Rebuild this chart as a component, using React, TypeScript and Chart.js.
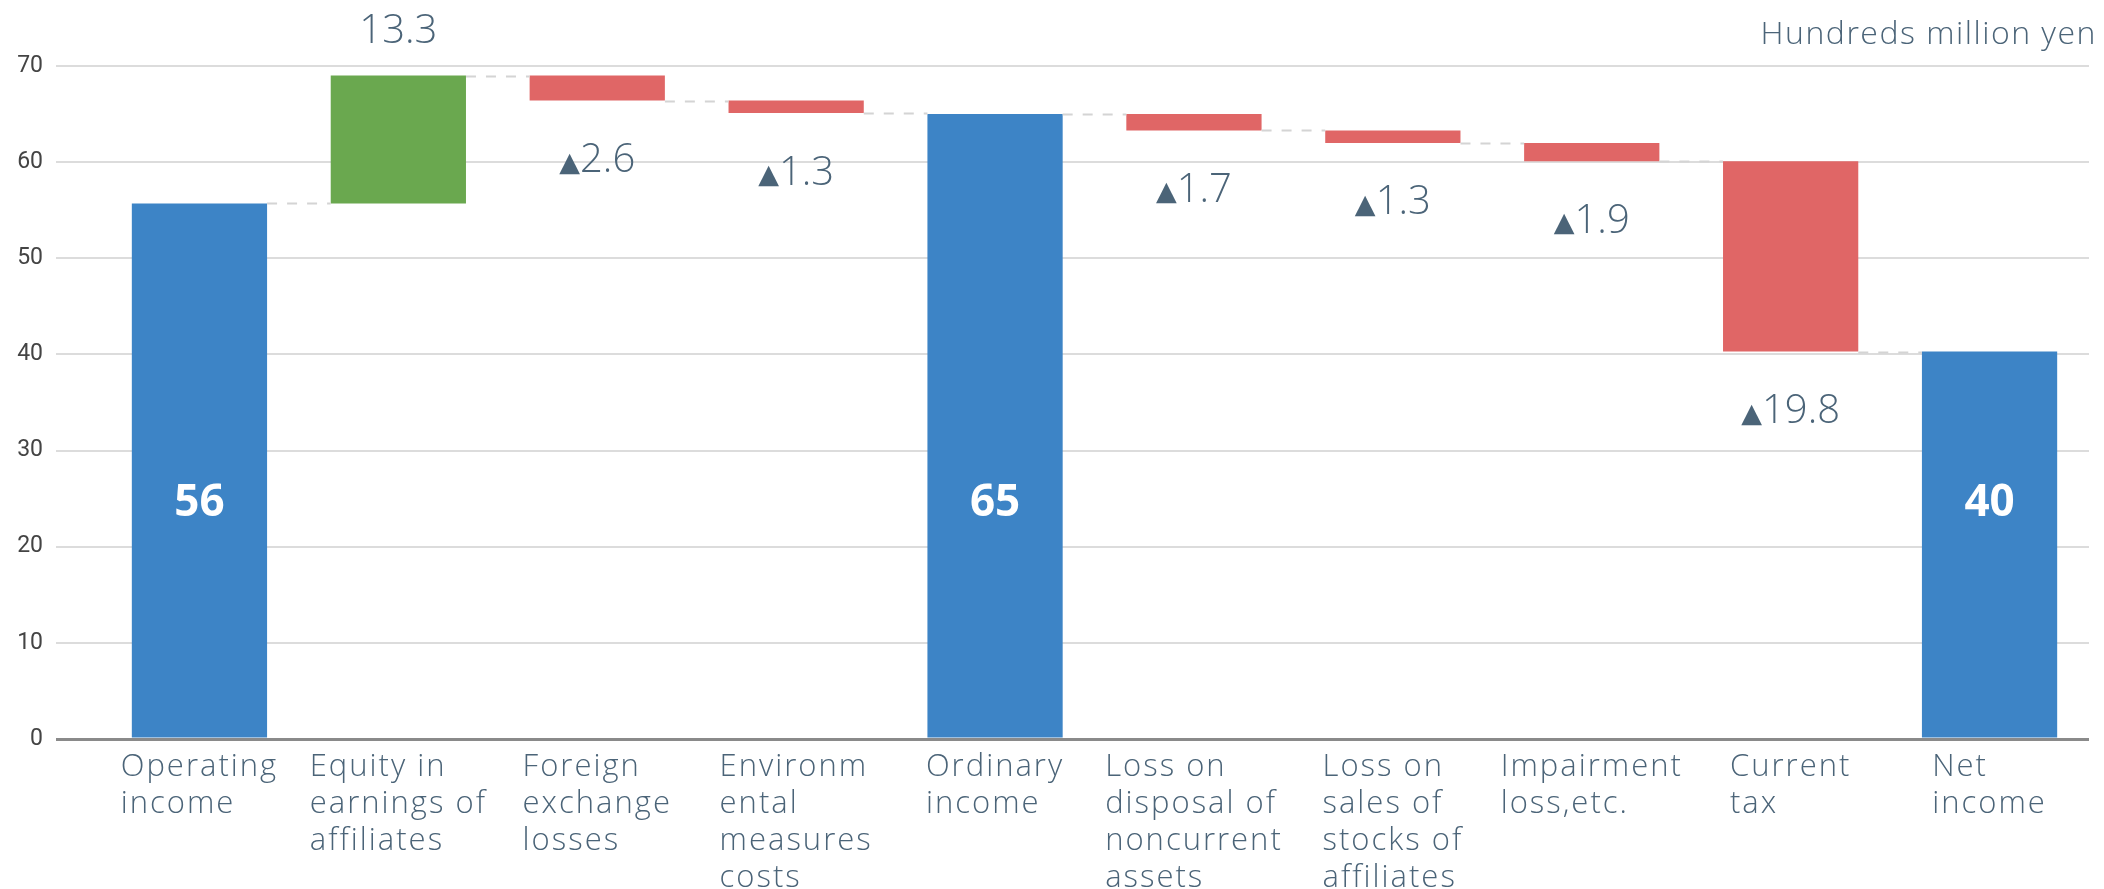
import { useEffect, useRef } from "react";
import { Chart, registerables } from "chart.js";

Chart.register(...registerables);

// ---- data ----
const categories: string[][] = [
  ["Operating", "income"],
  ["Equity in", "earnings of", "affiliates"],
  ["Foreign", "exchange", "losses"],
  ["Environm", "ental", "measures", "costs"],
  ["Ordinary", "income"],
  ["Loss on", "disposal of", "noncurrent", "assets"],
  ["Loss on", "sales of", "stocks of", "affiliates"],
  ["Impairment", "loss,etc."],
  ["Current", "tax"],
  ["Net", "income"],
];
const values: number[] = [55.7, 13.3, -2.6, -1.3, 65.0, -1.7, -1.3, -1.9, -19.8, 40.3];
const kinds: string[] = ["total", "delta", "delta", "delta", "total", "delta", "delta", "delta", "delta", "total"];
const yMin = 0;
const yMax = 70;
const yStep = 10;
const unitLabel = "Hundreds million yen";

// ---- style ----
const TEXT = "#4b6478";
const FONT = "'Open Sans', 'Lato', sans-serif";
const BLUE = "#3d84c6";
const GREEN = "#6aa84f";
const RED = "#e06666";
const TOTAL_LABEL_VALUE = 24.5;

export default function App() {
  const ref = useRef<HTMLCanvasElement>(null);

  useEffect(() => {
    document.body.style.margin = "0";
    const floating: [number, number][] = [];
    let run = 0;
    values.forEach((v, i) => {
      if (kinds[i] === "total") {
        floating.push([0, v]);
        run = v;
      } else {
        floating.push([run, run + v]);
        run = run + v;
      }
    });
    const colors = values.map((v, i) => (kinds[i] === "total" ? BLUE : v >= 0 ? GREEN : RED));

    const overlay = {
      id: "overlay",
      afterDatasetsDraw(chart: any) {
        const { ctx, scales, chartArea } = chart;
        const y = scales.y;
        const meta = chart.getDatasetMeta(0);
        ctx.save();
        // connectors
        ctx.setLineDash([10, 10]);
        ctx.strokeStyle = "#d4d4d4";
        ctx.lineWidth = 2;
        for (let i = 0; i < floating.length - 1; i++) {
          const bar = meta.data[i];
          const next = meta.data[i + 1];
          const py = Math.round(y.getPixelForValue(floating[i][1])) + 0.5;
          ctx.beginPath();
          ctx.moveTo(bar.x + bar.width / 2, py);
          ctx.lineTo(next.x - next.width / 2, py);
          ctx.stroke();
        }
        ctx.setLineDash([]);

        // value labels
        values.forEach((v, i) => {
          const bar = meta.data[i];
          ctx.letterSpacing = "0px";
          if (kinds[i] === "total") {
            ctx.font = `700 44px ${FONT}`;
            ctx.fillStyle = "#ffffff";
            ctx.textAlign = "center";
            ctx.textBaseline = "middle";
            ctx.fillText(String(Math.round(v)), bar.x, y.getPixelForValue(TOTAL_LABEL_VALUE));
          } else {
            const top = y.getPixelForValue(Math.max(floating[i][0], floating[i][1]));
            const bottom = y.getPixelForValue(Math.min(floating[i][0], floating[i][1]));
            const num = Math.abs(v).toFixed(1);
            ctx.fillStyle = TEXT;
            ctx.textBaseline = "middle";
            ctx.textAlign = "left";
            if (v >= 0) {
              ctx.font = `300 40px ${FONT}`;
              const w = ctx.measureText(num).width;
              ctx.fillText(num, bar.x - w / 2, top - 44);
            } else {
              const cy = bottom + 60;
              ctx.font = `300 40px ${FONT}`;
              const wn = ctx.measureText(num).width;
              ctx.font = `27px 'DejaVu Sans', sans-serif`;
              const wt = ctx.measureText("▲").width;
              const left = bar.x - (wn + wt) / 2;
              ctx.fillText("▲", left, cy + 3);
              ctx.font = `300 40px ${FONT}`;
              ctx.fillText(num, left + wt, cy);
            }
          }
        });

        // category labels
        ctx.font = `300 31px ${FONT}`;
        ctx.letterSpacing = "2px";
        ctx.fillStyle = TEXT;
        ctx.textAlign = "left";
        ctx.textBaseline = "middle";
        categories.forEach((lines, i) => {
          const bar = meta.data[i];
          const maxW = Math.max(...lines.map((l) => ctx.measureText(l).width));
          const left = bar.x - maxW / 2;
          lines.forEach((l, j) => {
            ctx.fillText(l, left, chartArea.bottom + 28 + j * 37);
          });
        });

        // unit label
        ctx.font = `300 32px ${FONT}`;
        ctx.letterSpacing = "1.5px";
        ctx.textAlign = "right";
        ctx.fillText(unitLabel, chart.width - 7, 35);
        ctx.restore();
      },
    };

    const chart = new Chart(ref.current as HTMLCanvasElement, {
      type: "bar",
      data: {
        labels: categories.map((c) => c.join(" ")),
        datasets: [
          {
            data: floating as any,
            backgroundColor: colors,
            borderWidth: 0,
            barPercentage: 0.68,
            categoryPercentage: 1,
          },
        ],
      },
      options: {
        animation: false,
        responsive: false,
        layout: { padding: { top: 66, right: 15, left: 0, bottom: 0 } },
        plugins: { legend: { display: false }, tooltip: { enabled: false } },
        scales: {
          x: {
            grid: { display: false },
            border: { display: false },
            ticks: { display: false },
            afterFit: (s: any) => {
              s.height = 150;
            },
          },
          y: {
            min: yMin,
            max: yMax,
            border: { display: false },
            ticks: {
              stepSize: yStep,
              color: "#444444",
              font: { family: "Roboto, sans-serif", size: 23 },
              padding: 13,
            },
            grid: {
              color: (c: any) => (c.tick && c.tick.value === 0 ? "#8a8a8a" : "#dcdcdc"),
              lineWidth: (c: any) => (c.tick && c.tick.value === 0 ? 3 : 2),
              drawTicks: true,
              tickLength: 44,
            },
            afterFit: (s: any) => {
              s.width = 100;
            },
          },
        },
      },
      plugins: [overlay],
    });
    return () => chart.destroy();
  }, []);

  return (
    <div style={{ width: 2104, height: 889 }}>
      <canvas ref={ref} width={2104} height={889} style={{ display: "block" }} />
    </div>
  );
}
